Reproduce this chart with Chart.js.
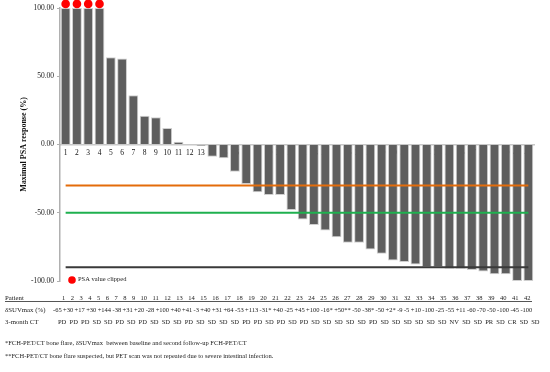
<!DOCTYPE html>
<html><head><meta charset="utf-8">
<script src="https://cdn.jsdelivr.net/npm/chart.js@4.4.1/dist/chart.umd.min.js"></script>
<style>
html,body{margin:0;padding:0;background:#fff;}
#wrap{position:relative;width:550px;height:372px;overflow:hidden;font-family:"Liberation Serif","Times New Roman",serif;color:#222;}
canvas{position:absolute;left:0;top:0;}
.row{position:absolute;display:flex;justify-content:space-between;font-size:6.5px;line-height:8px;white-space:nowrap;}
.lab{position:absolute;left:5px;font-size:6.8px;line-height:8px;white-space:nowrap;}
.note{position:absolute;left:5px;font-size:6.5px;line-height:8px;white-space:nowrap;}
</style></head><body>
<div id="wrap">
<canvas id="c" width="550" height="372"></canvas>
<div class="lab" style="top:294px">Patient</div>
<div class="row" id="rowP" style="top:294px;left:62px;width:469px"></div>
<div style="position:absolute;left:5px;top:301px;width:527px;height:0;border-top:0.8px solid #555"></div>
<div class="lab" style="top:306px">δSUVmax (%)</div>
<div class="row" id="rowS" style="top:306px;left:53px;width:480px"></div>
<div class="lab" style="top:317.5px">3-month CT</div>
<div class="row" id="rowC" style="top:317.5px;left:58px;width:482px"></div>
<div class="note" style="top:339.3px">*FCH-PET/CT bone flare, δSUVmax&nbsp; between baseline and second follow-up FCH-PET/CT</div>
<div class="note" style="top:351.7px">**FCH-PET/CT bone flare suspected, but PET scan was not repeated due to severe intestinal infection.</div>
</div>
<script>
const patients = ['1','2','3','4','5','6','7','8','9','10','11','12','13','14','15','16','17','18','19','20','21','22','23','24','25','26','27','28','29','30','31','32','33','34','35','36','37','38','39','40','41','42'];
const psaResponse = [100,100,100,100,64,63,36,21,20,12,2,0,-1,-9,-10,-20,-29,-35,-37,-37,-48,-55,-59,-63,-68,-72,-72,-77,-80,-85,-86,-88,-90,-90,-91,-91,-92,-93,-95,-95,-100,-100];
const clippedPatients = ['1','2','3','4'];
const clipMarkerLevel = 103;
const thresholdOrange = -30;
const thresholdGreen = -50;
const thresholdBlack = -90;
const suvChange = ['-65','+30','+17','+30','+144','-38','+31','+20','-28','+100','+40','+41','-3','+40','+31','+64','-53','+113','-31*','+40','-25','+45','+100','-16*','+50**','-50','-38*','-50','+2*','-9','-5','+10','-100','-25','-55','+11','-60','-70','-50','-100','-45','-100'];
const ctResponse = ['PD','PD','PD','SD','SD','PD','SD','PD','SD','SD','SD','PD','SD','SD','SD','SD','PD','PD','SD','PD','SD','PD','SD','SD','SD','SD','SD','PD','SD','SD','SD','SD','SD','SD','NV','SD','SD','PR','SD','CR','SD','SD'];
const yTicks = [-100,-50,0,50,100];

function fillRow(id, arr){
  const el = document.getElementById(id);
  arr.forEach(v => { const s = document.createElement('span'); s.textContent = v; el.appendChild(s); });
}
fillRow('rowP', patients);
fillRow('rowS', suvChange);
fillRow('rowC', ctResponse);

const FONT = 'Liberation Serif';
function hLine(level){ return [{x: patients[0], y: level}, {x: patients[patients.length-1], y: level}]; }

const clipLegend = {
  id: 'clipLegend',
  afterDatasetsDraw(chart){
    const ds = chart.data.datasets[0];
    const {ctx, chartArea: a} = chart;
    ctx.save();
    ctx.fillStyle = ds.pointBackgroundColor;
    ctx.beginPath();
    ctx.arc(a.left + 12, a.bottom - 1, 3.8, 0, Math.PI * 2);
    ctx.fill();
    ctx.fillStyle = '#222';
    ctx.font = '6.5px "' + FONT + '"';
    ctx.textBaseline = 'middle';
    ctx.fillText(ds.label, a.left + 18, a.bottom - 2);
    ctx.restore();
  }
};

new Chart(document.getElementById('c'), {
  type: 'bar',
  data: {
    labels: patients,
    datasets: [
      {type:'line', label:'PSA value clipped', data: clippedPatients.map(p => ({x:p, y:clipMarkerLevel})), showLine:false, pointRadius:4.3, pointBackgroundColor:'#ff0000', pointBorderWidth:0, order:0, clip:false},
      {type:'line', label:'-30%', data: hLine(thresholdOrange), borderColor:'#e46c0a', borderWidth:2, pointRadius:0, order:1},
      {type:'line', label:'-50%', data: hLine(thresholdGreen), borderColor:'#1fb04f', borderWidth:2, pointRadius:0, order:1},
      {type:'line', label:'-90%', data: hLine(thresholdBlack), borderColor:'#3a3a3a', borderWidth:2, pointRadius:0, order:1},
      {type:'bar', label:'Maximal PSA response', data: psaResponse, backgroundColor:'#5e5e5e', borderColor:'#cfcfcf', borderWidth:1, barPercentage:0.87, categoryPercentage:1, order:2}
    ]
  },
  options: {
    responsive:false, animation:false, devicePixelRatio:1,
    layout:{padding:{left:19, right:16, top:8, bottom:91}},
    plugins:{legend:{display:false}, tooltip:{enabled:false}},
    scales:{
      x:{type:'category', position:{y:0}, offset:true, z:1,
         grid:{display:false, drawTicks:false},
         border:{display:true, color:'#c8c8c8', width:1.5},
         ticks:{font:{family:FONT, size:7.5}, color:'#111', padding:4, maxRotation:0, autoSkip:false}},
      y:{min:yTicks[0], max:yTicks[yTicks.length-1],
         afterBuildTicks(s){ s.ticks = yTicks.map(v => ({value:v})); },
         afterFit(s){ s.width = 41; },
         ticks:{font:{family:FONT, size:7.5}, color:'#222', padding:3, callback:v => Number(v).toFixed(2)},
         grid:{drawOnChartArea:false, drawTicks:true, tickLength:3, color:'#b0b0b0'},
         border:{color:'#b0b0b0', width:1.5},
         title:{display:true, text:'Maximal PSA response (%)', font:{family:FONT, size:8, weight:'bold'}, color:'#111', padding:0}}
    }
  },
  plugins:[clipLegend]
});
</script>
</body></html>
